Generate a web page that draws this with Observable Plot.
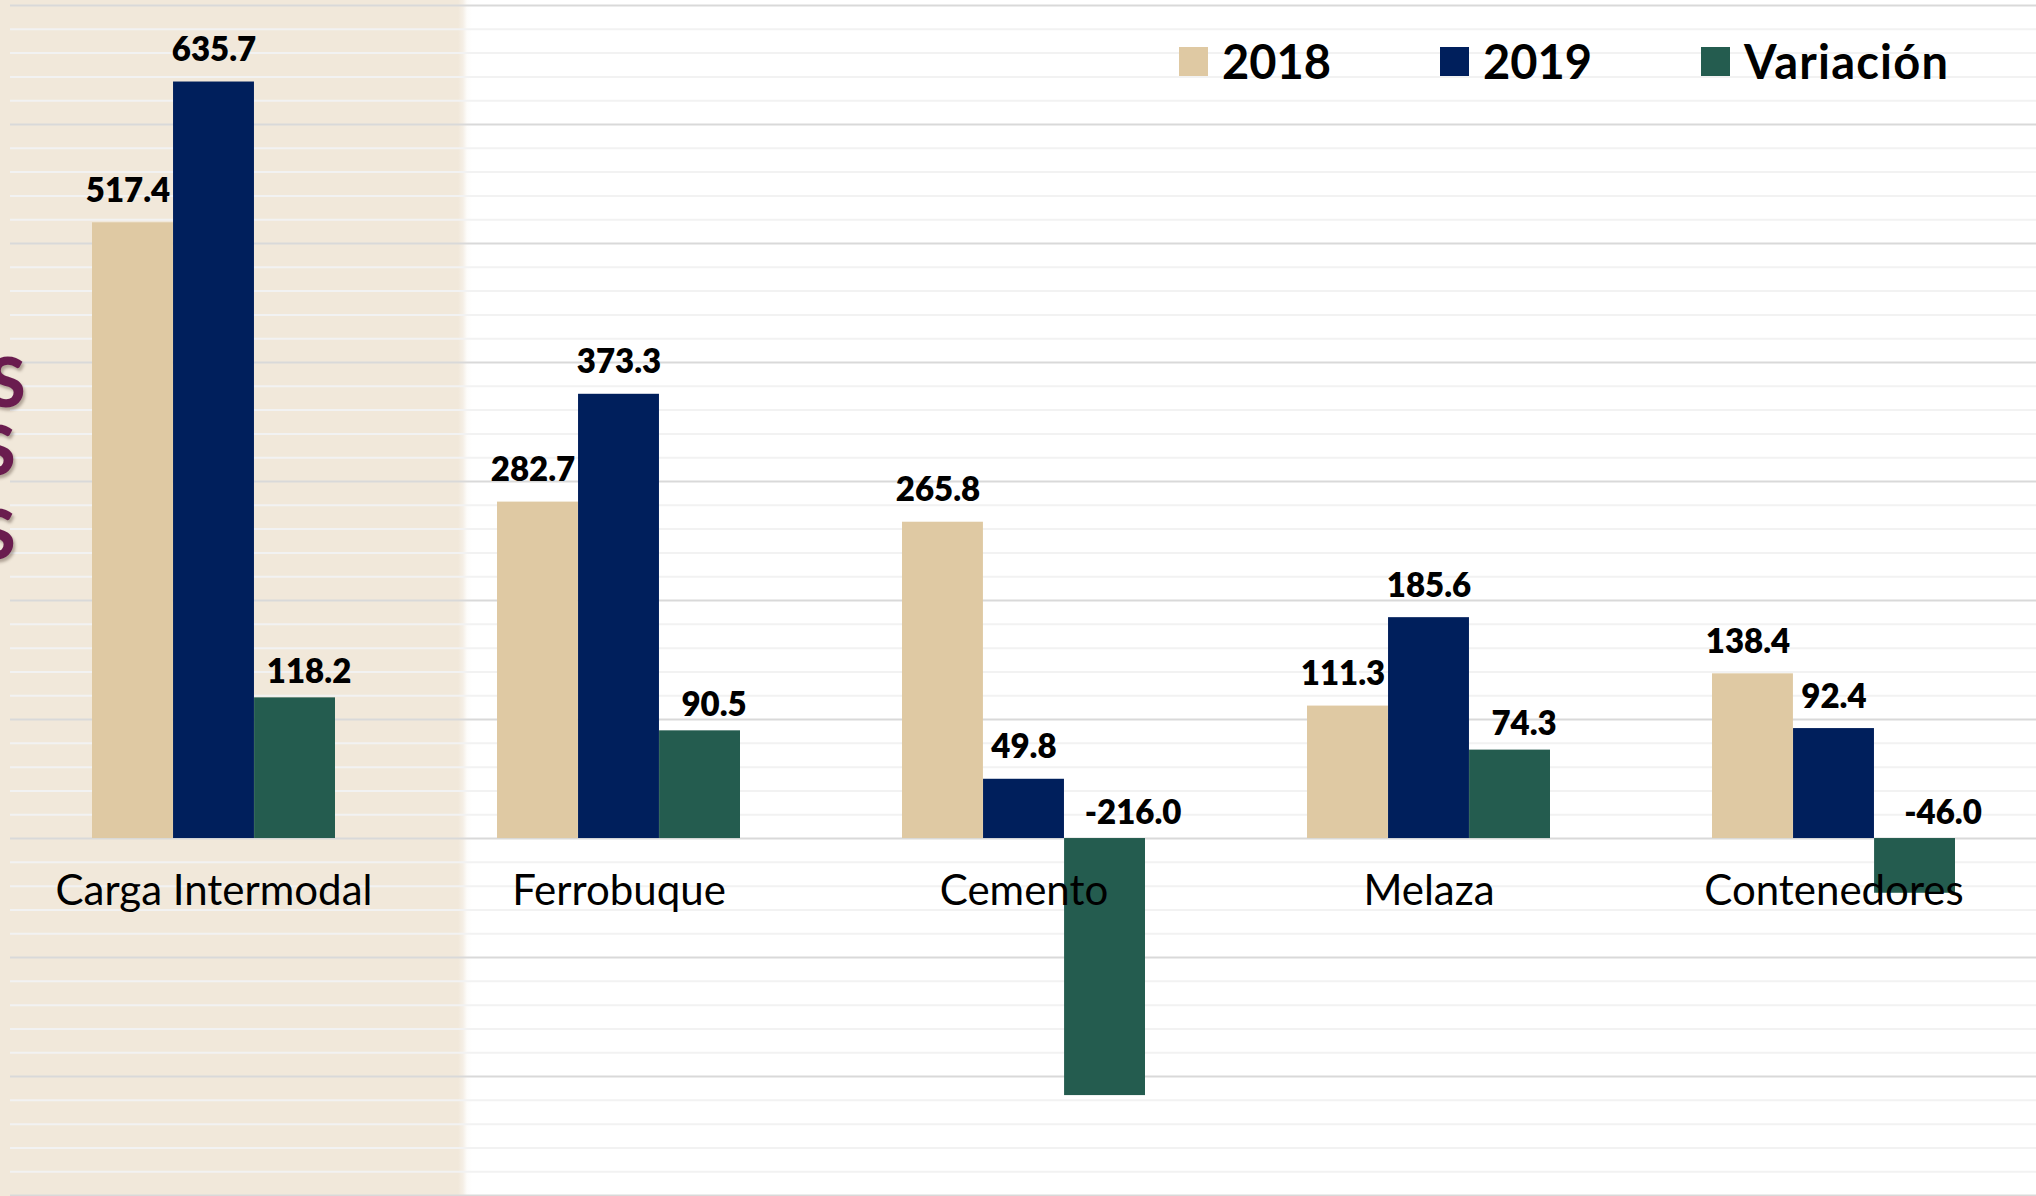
<!DOCTYPE html>
<html>
<head>
<meta charset="utf-8">
<script src="https://cdn.jsdelivr.net/npm/d3@7"></script>
<script src="https://cdn.jsdelivr.net/npm/@observablehq/plot@0.6"></script>
<style>
html, body { margin: 0; padding: 0; background: #fff; }
#wrap {
  position: relative; width: 2036px; height: 1196px; overflow: hidden;
  background: linear-gradient(to right, #f1e8da 0px, #f1e8da 458px, #f5efe6 463px, #fdfcfa 467px, #ffffff 472px);
}
#chart { position: absolute; left: 0; top: 0; }
#chart svg { display: block; }
#legend { position: absolute; left: 1179px; top: 33px; width: 860px; }
#legend .lg-swatches { font-family: Lato, sans-serif !important; font-size: 47px !important; font-weight: 700; color: #000; margin: 0 !important; }
#legend .lg-swatches-wrap { flex-wrap: nowrap !important; }
#legend .lg-swatch { width: 261px; margin-right: 0 !important; }
#legend .lg-swatch > svg { margin-right: 14px !important; }
#legend .lg-swatch:last-child { letter-spacing: 1.2px; }
.deco {
  position: absolute; font-family: Lato, sans-serif; font-weight: 900; font-size: 68px;
  line-height: 1; color: #6a1c4f; text-shadow: 2px 3px 3px rgba(60, 40, 30, 0.35);
}
</style>
</head>
<body>
<div id="wrap">
  <div id="chart"></div>
  <div id="legend"></div>
  <span class="deco" style="left:-12px; top:347px;">S</span>
  <span class="deco" style="left:-22px; top:415px;">S</span>
  <span class="deco" style="left:-22px; top:499px;">S</span>
</div>
<script>
// ---- data ----
const categories = ["Carga Intermodal", "Ferrobuque", "Cemento", "Melaza", "Contenedores"];
const series = ["2018", "2019", "Variación"];
const values2018 = [517.4, 282.7, 265.8, 111.3, 138.4];
const values2019 = [635.7, 373.3, 49.8, 185.6, 92.4];
const valuesVariacion = [118.2, 90.5, -216.0, 74.3, -46.0];
const colors = ["#dfc9a3", "#001f5c", "#245c4f"];
const majorTicks = [-300, -200, -100, 0, 100, 200, 300, 400, 500, 600, 700];
const minorTicks = d3.range(-300, 701, 20).filter(v => v % 100 !== 0);

const seriesValues = [values2018, values2019, valuesVariacion];
const rows = series.flatMap((s, i) =>
  categories.map((c, j) => ({category: c, series: s, value: seriesValues[i][j]}))
);

// ---- layout ----
const W = 2036, H = 1196, ML = 10, MR = 0;
const xOptions = {domain: categories, paddingInner: 0.4, paddingOuter: 0.2};
const bw = Plot.scale({x: {type: "band", ...xOptions, range: [ML, W - MR]}}).bandwidth;
const third = bw / 3;
const insets = [
  {insetLeft: 0, insetRight: 2 * third},
  {insetLeft: third, insetRight: third},
  {insetLeft: 2 * third, insetRight: 0}
];
// label styles: [series index, filter, dx extra, dy]
const labelStyles = [
  {i: 0, keep: d => true, dxExtra: -5, dy: -21},
  {i: 1, keep: d => true, dxExtra: 0, dy: -21},
  {i: 2, keep: d => d.value >= 0, dxExtra: 14, dy: -15},
  {i: 2, keep: d => d.value < 0, dxExtra: 28, dy: -15}
];

const barMarks = series.map((s, i) =>
  Plot.barY(rows.filter(r => r.series === s), {x: "category", y: "value", fill: "series",
    insetLeft: insets[i].insetLeft, insetRight: insets[i].insetRight})
);
const labelMarks = labelStyles.map(({i, keep, dxExtra, dy}) => {
  const d = rows.filter(r => r.series === series[i] && keep(r));
  const center = (insets[i].insetLeft - insets[i].insetRight) / 2;
  return Plot.text(d, {x: "category", y: r => Math.max(0, r.value),
    text: r => r.value.toFixed(1), lineAnchor: "bottom",
    dx: center + dxExtra, dy,
    fontSize: 33, fontWeight: 800, fill: "#000"});
});

const chart = Plot.plot({
  width: W, height: H,
  marginLeft: ML, marginRight: MR, marginTop: 0, marginBottom: 0,
  style: {background: "transparent", fontFamily: "Lato, sans-serif"},
  x: {...xOptions, axis: null},
  y: {domain: [-300.8, 704.2], axis: null},
  color: {domain: series, range: colors},
  marks: [
    Plot.ruleY(minorTicks, {stroke: "#f2f2f2", strokeWidth: 2}),
    Plot.ruleY(majorTicks, {stroke: "#d9d9d9", strokeWidth: 2}),
    ...barMarks,
    Plot.text(categories, {x: d => d, y: 0, text: d => d, lineAnchor: "bottom",
      dy: 66, fontSize: 42, fill: "#000"}),
    ...labelMarks
  ]
});
document.getElementById("chart").appendChild(chart);

const legend = Plot.legend({
  color: {domain: series, range: colors},
  legend: "swatches", swatchSize: 29, className: "lg"
});
document.getElementById("legend").appendChild(legend);
</script>
</body>
</html>
